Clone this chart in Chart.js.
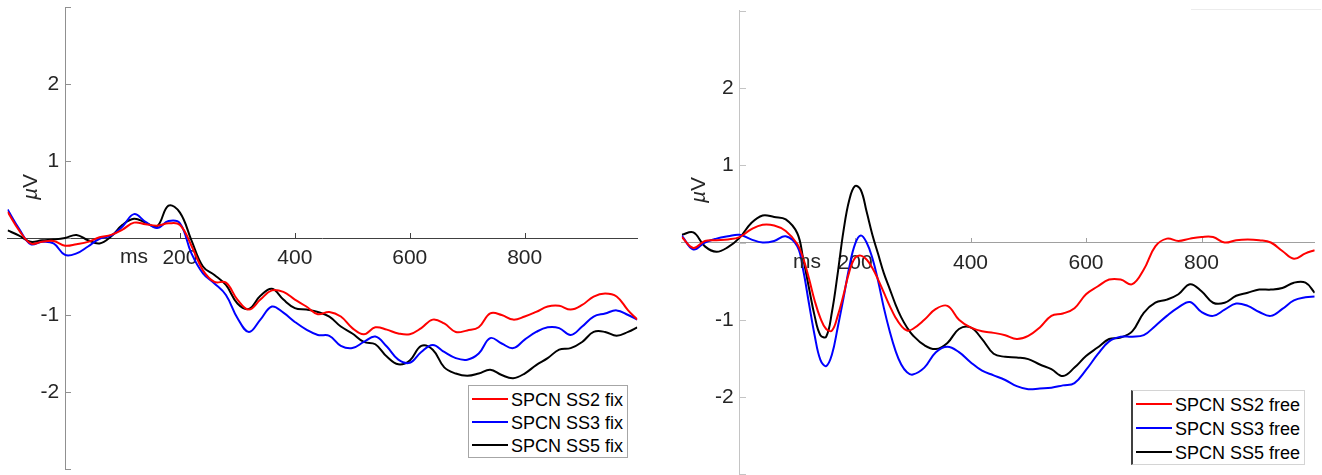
<!DOCTYPE html>
<html lang="en">
<head>
<meta charset="utf-8">
<title>SPCN fix / free</title>
<script src="https://cdn.jsdelivr.net/npm/chart.js@4.4.1/dist/chart.umd.min.js"></script>
<style>
  html, body { margin: 0; padding: 0; background: #fff; }
  body { position: relative; width: 1322px; height: 475px; overflow: hidden; font-family: "Liberation Sans", Arial, sans-serif; }
  canvas { position: absolute; top: 0; }
  #fixChart { left: 0; }
  #freeChart { left: 661px; }
  .axis-text { position: absolute; font-size: 21px; line-height: 21px; color: #262626; white-space: nowrap; }
  .unit-label { transform: rotate(-90deg); transform-origin: 0 0; }
  .legend { position: absolute; background: #fff; box-sizing: border-box; }
  .legend-line { position: absolute; width: 36px; height: 2px; }
  .legend-text { position: absolute; font-size: 18px; line-height: 18px; color: #000; white-space: nowrap; }
  #topLine { position: absolute; left: 1191px; top: 9px; width: 130px; height: 1px; background: #ececec; }
</style>
</head>
<body>
<canvas id="fixChart" width="661" height="475"></canvas>
<canvas id="freeChart" width="661" height="475"></canvas>
<div id="topLine"></div>
<div class="axis-text unit-label" style="left:19px; top:200px;"><i>µ</i>V</div>
<div class="axis-text unit-label" style="left:687px; top:203px;"><i>µ</i>V</div>
<div class="axis-text" style="left:120px; top:245px;">ms</div>
<div class="axis-text" style="left:793px; top:250px;">ms</div>
<div class="legend" id="fixLegend" style="left:468px; top:385px; width:160px; height:73px; border:1px solid #a6a6a6;"></div>
<div class="legend" id="freeLegend" style="left:1131px; top:390px; width:174px; height:75px; border:1px solid #d4d4d4; border-left:2px solid #404040;"></div>
<script>
// ----- data (µV) -----
const fixTimes = [-100, -80, -60, -40, -20, 0, 20, 40, 60, 80, 100, 120, 140, 160, 180, 200, 220, 240, 260, 280,
    300, 320, 340, 360, 380, 400, 420, 440, 460, 480, 500, 520, 540, 560, 580, 600, 620, 640, 660, 680,
    700, 720, 740, 760, 780, 800, 820, 840, 860, 880, 900, 920, 940, 960, 980, 996];

const fixSS2 = [0.34, 0.1, -0.07, -0.05, -0.04, -0.1, -0.08, -0.05, 0.01, 0.04,
    0.11, 0.2, 0.18, 0.16, 0.19, 0.17, -0.1, -0.42, -0.57, -0.58,
    -0.8, -0.93, -0.8, -0.68, -0.7, -0.8, -0.89, -0.99, -0.96, -1.02,
    -1.17, -1.25, -1.16, -1.19, -1.24, -1.25, -1.17, -1.06, -1.11, -1.22,
    -1.2, -1.16, -0.98, -1.0, -1.06, -1.02, -0.96, -0.89, -0.88, -0.93,
    -0.87, -0.76, -0.72, -0.76, -0.94, -1.06];
const fixSS3 = [0.37, 0.12, -0.08, -0.05, -0.07, -0.22, -0.2, -0.11, -0.01, 0.03,
    0.15, 0.31, 0.21, 0.13, 0.22, 0.19, -0.2, -0.46, -0.59, -0.74,
    -1.04, -1.22, -1.06, -0.89, -0.97, -1.09, -1.19, -1.26, -1.27, -1.4,
    -1.43, -1.35, -1.28, -1.41, -1.58, -1.62, -1.48, -1.39, -1.48, -1.56,
    -1.58, -1.5, -1.3, -1.37, -1.43, -1.32, -1.22, -1.16, -1.17, -1.26,
    -1.15, -1.02, -0.98, -0.94, -1.0, -1.06];
const fixSS5 = [0.1, 0.03, -0.05, -0.03, -0.02, 0.0, 0.04, -0.03, -0.07, 0.02,
    0.17, 0.25, 0.2, 0.15, 0.42, 0.33, -0.03, -0.37, -0.48, -0.61,
    -0.85, -0.92, -0.75, -0.66, -0.8, -0.91, -0.93, -0.96, -1.02, -1.15,
    -1.24, -1.35, -1.38, -1.54, -1.64, -1.59, -1.4, -1.45, -1.68, -1.76,
    -1.79, -1.76, -1.71, -1.78, -1.82, -1.76, -1.65, -1.56, -1.45, -1.43,
    -1.35, -1.22, -1.22, -1.27, -1.22, -1.16];

const freeTimes = [-100, -80, -60, -40, -20, 0, 20, 40, 60, 80, 100,
    110, 120, 130, 140, 150, 160, 170, 180, 190, 200, 210, 220, 230, 240, 250, 260, 270, 280, 290, 300,
    320, 340, 360, 380, 400, 420, 440, 460, 480, 500, 520, 540, 560, 580, 600, 620, 640, 660, 680,
    700, 720, 740, 760, 780, 800, 820, 840, 860, 880, 900, 920, 940, 960, 980, 996];

const freeSS2 = [0.07, -0.07, 0.02, 0.03, 0.04, 0.07, 0.17, 0.23, 0.22, 0.15, -0.02,
    -0.2, -0.46, -0.75, -0.98, -1.12, -1.14, -0.95, -0.68, -0.38, -0.2, -0.17, -0.22, -0.33, -0.48, -0.65, -0.82, -0.97, -1.08, -1.14, -1.12,
    -1.0, -0.86, -0.82, -1.0, -1.1, -1.15, -1.17, -1.2, -1.25, -1.21, -1.1, -0.95, -0.92, -0.85, -0.67, -0.57, -0.48, -0.48, -0.54,
    -0.35, -0.05, 0.05, 0.02, 0.05, 0.07, 0.07, 0.0, 0.03, 0.04, 0.03, 0.0, -0.11, -0.21, -0.14, -0.1];
const freeSS3 = [0.09, -0.09, 0.0, 0.05, 0.08, 0.1, 0.04, 0.0, 0.02, 0.08, -0.05,
    -0.35, -0.78, -1.2, -1.52, -1.6, -1.45, -1.1, -0.72, -0.32, -0.02, 0.09, 0.0, -0.2, -0.5, -0.85, -1.15, -1.4, -1.58, -1.68, -1.71,
    -1.62, -1.42, -1.35, -1.42, -1.55, -1.66, -1.72, -1.78, -1.86, -1.9, -1.89, -1.88, -1.85, -1.82, -1.65, -1.45, -1.28, -1.22, -1.22,
    -1.2, -1.08, -0.95, -0.84, -0.77, -0.9, -0.95, -0.87, -0.79, -0.82, -0.9, -0.95, -0.86, -0.75, -0.71, -0.7];
const freeSS5 = [0.1, 0.13, -0.05, -0.12, -0.06, 0.06, 0.25, 0.35, 0.33, 0.3, 0.12,
    -0.2, -0.58, -0.95, -1.2, -1.22, -0.9, -0.4, 0.15, 0.55, 0.73, 0.68, 0.4, 0.1, -0.15, -0.4, -0.6, -0.8, -0.97, -1.1, -1.2,
    -1.33, -1.38, -1.3, -1.12, -1.1, -1.25, -1.44, -1.48, -1.49, -1.51, -1.58, -1.64, -1.73, -1.62, -1.47, -1.36, -1.25, -1.23, -1.15,
    -0.91, -0.78, -0.74, -0.67, -0.54, -0.63, -0.78, -0.78, -0.69, -0.65, -0.61, -0.61, -0.59, -0.52, -0.52, -0.65];

const xTickValues = [200, 400, 600, 800];
const yTickValues = [-3, -2, -1, 0, 1, 2, 3];
const yLabelValues = [-2, -1, 1, 2];

const fixSeries = [
    { label: 'SPCN SS2 fix', color: '#ff0000', values: fixSS2 },
    { label: 'SPCN SS3 fix', color: '#0000ff', values: fixSS3 },
    { label: 'SPCN SS5 fix', color: '#000000', values: fixSS5 }
];
const freeSeries = [
    { label: 'SPCN SS2 free', color: '#ff0000', values: freeSS2 },
    { label: 'SPCN SS3 free', color: '#0000ff', values: freeSS3 },
    { label: 'SPCN SS5 free', color: '#000000', values: freeSS5 }
];

Chart.defaults.font.family = '"Liberation Sans", Arial, sans-serif';
Chart.defaults.color = '#262626';

// ----- small inward tick marks, like MATLAB axes -----
const tickMarks = {
    id: 'tickMarks',
    beforeDatasetsDraw(chart, args, opts) {
        const ctx = chart.ctx;
        const x = chart.scales.x;
        const y = chart.scales.y;
        const x0 = Math.round(x.getPixelForValue(0));
        const y0 = Math.round(y.getPixelForValue(0));
        ctx.save();
        ctx.lineWidth = 1;
        ctx.strokeStyle = opts.yColor;
        ctx.beginPath();
        yTickValues.forEach(v => {
            const py = Math.round(y.getPixelForValue(v)) + 0.5;
            ctx.moveTo(x0, py);
            ctx.lineTo(x0 + 6, py);
        });
        ctx.stroke();
        ctx.strokeStyle = opts.xColor;
        ctx.beginPath();
        xTickValues.forEach(v => {
            const px = Math.round(x.getPixelForValue(v)) + 0.5;
            ctx.moveTo(px, y0);
            ctx.lineTo(px, y0 - 5);
        });
        ctx.stroke();
        ctx.restore();
    }
};

function makeChart(canvasId, times, series, padding, look) {
    const datasets = series.map(s => ({
        label: s.label,
        data: times.map((t, i) => ({ x: t, y: s.values[i] })),
        borderColor: s.color,
        borderWidth: 2,
        pointRadius: 0,
        tension: 0.4,
        fill: false
    }));

    return new Chart(document.getElementById(canvasId), {
        type: 'line',
        data: { datasets: datasets },
        options: {
            responsive: false,
            animation: false,
            devicePixelRatio: 1,
            layout: { padding: padding },
            plugins: {
                legend: { display: false },
                tooltip: { enabled: false },
                tickMarks: { xColor: look.xColor, yColor: look.yColor }
            },
            scales: {
                x: {
                    type: 'linear',
                    min: -100,
                    max: 996,
                    position: { y: 0 },
                    afterBuildTicks: scale => { scale.ticks = xTickValues.map(v => ({ value: v })); },
                    afterFit: scale => { scale.paddingLeft = scale.paddingRight = scale.paddingTop = scale.paddingBottom = 0; },
                    grid: { drawOnChartArea: false, drawTicks: false },
                    border: { color: look.xColor, width: 1 },
                    ticks: { autoSkip: false, maxRotation: 0, padding: 8, font: { size: 21 }, color: '#262626' }
                },
                y: {
                    type: 'linear',
                    min: -3,
                    max: 3,
                    position: { x: 0 },
                    afterBuildTicks: scale => { scale.ticks = yTickValues.map(v => ({ value: v })); },
                    afterFit: scale => { scale.paddingLeft = scale.paddingRight = scale.paddingTop = scale.paddingBottom = 0; },
                    grid: { drawOnChartArea: false, drawTicks: false },
                    border: { color: look.yColor, width: 1 },
                    ticks: {
                        autoSkip: false,
                        font: { size: 21 },
                        color: '#262626',
                        // trailing space keeps the label off the axis line
                        callback: v => yLabelValues.includes(v) ? v + ' ' : ''
                    }
                }
            }
        },
        plugins: [tickMarks]
    });
}

// ----- legend boxes -----
function buildLegend(boxId, series, rowCenters, lineLeft, textLeft) {
    const box = document.getElementById(boxId);
    series.forEach((s, i) => {
        const line = document.createElement('div');
        line.className = 'legend-line';
        line.style.left = lineLeft + 'px';
        line.style.top = (rowCenters[i] - 1) + 'px';
        line.style.background = s.color;
        box.appendChild(line);

        const text = document.createElement('div');
        text.className = 'legend-text';
        text.style.left = textLeft + 'px';
        text.style.top = (rowCenters[i] - 8) + 'px';
        text.textContent = s.label;
        box.appendChild(text);
    });
}

makeChart('fixChart', fixTimes, fixSeries,
    { left: 7.6, right: 23.7, top: 7, bottom: 6 },
    { xColor: '#404040', yColor: '#909090' });
makeChart('freeChart', freeTimes, freeSeries,
    { left: 20.8, right: 7.3, top: 10.8, bottom: 0.8 },
    { xColor: '#a0a0a0', yColor: '#c4c4c4' });

buildLegend('fixLegend', fixSeries, [13, 36, 59], 3, 42);
buildLegend('freeLegend', freeSeries, [13, 37, 61], 3, 42);
</script>
</body>
</html>
